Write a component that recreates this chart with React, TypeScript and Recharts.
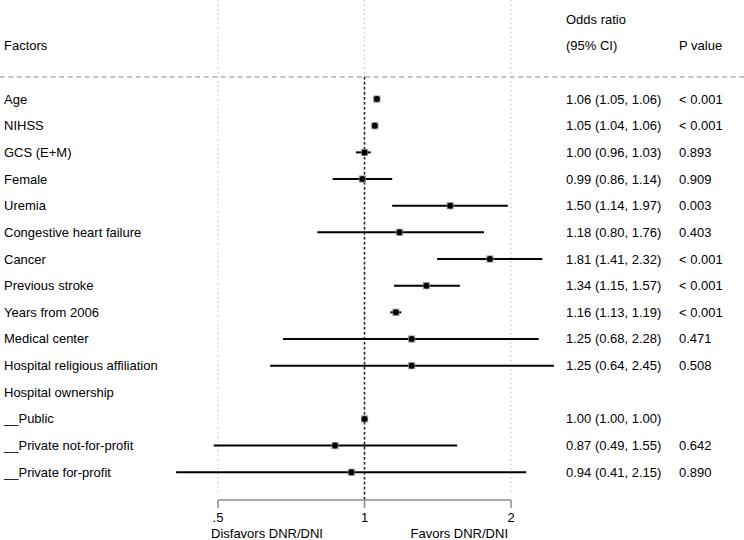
import React from "react";
import {
  ScatterChart,
  Scatter,
  XAxis,
  YAxis,
  ErrorBar,
  ReferenceLine,
} from "recharts";

const factors = [
  "Age",
  "NIHSS",
  "GCS (E+M)",
  "Female",
  "Uremia",
  "Congestive heart failure",
  "Cancer",
  "Previous stroke",
  "Years from 2006",
  "Medical center",
  "Hospital religious affiliation",
  "Hospital ownership",
  "__Public",
  "__Private not-for-profit",
  "__Private for-profit",
];
const oddsRatio: (number | null)[] = [1.06, 1.05, 1.0, 0.99, 1.5, 1.18, 1.81, 1.34, 1.16, 1.25, 1.25, null, 1.0, 0.87, 0.94];
const ciLow: (number | null)[] = [1.05, 1.04, 0.96, 0.86, 1.14, 0.8, 1.41, 1.15, 1.13, 0.68, 0.64, null, 1.0, 0.49, 0.41];
const ciHigh: (number | null)[] = [1.06, 1.06, 1.03, 1.14, 1.97, 1.76, 2.32, 1.57, 1.19, 2.28, 2.45, null, 1.0, 1.55, 2.15];
const pValues = [
  "< 0.001",
  "< 0.001",
  "0.893",
  "0.909",
  "0.003",
  "0.403",
  "< 0.001",
  "< 0.001",
  "< 0.001",
  "0.471",
  "0.508",
  "",
  "",
  "0.642",
  "0.890",
];
const xTicks = [0.5, 1, 2];
const xTickLabels = [".5", "1", "2"];
const leftHeader = "Factors";
const orHeader1 = "Odds ratio";
const orHeader2 = "(95% CI)";
const pHeader = "P value";
const lowLabel = "Disfavors DNR/DNI";
const highLabel = "Favors DNR/DNI";

const FONT = "'Liberation Sans', Arial, Helvetica, sans-serif";
const Y_DOMAIN: [number, number] = [-3.716, 15.04];
const HEADER_ROW_1 = -3;
const HEADER_ROW_2 = -2;
const RULE_ROW = -0.83;

const data = factors
  .map((f, i) => ({
    row: i,
    factor: f,
    or: oddsRatio[i],
    err: oddsRatio[i] != null ? [(oddsRatio[i] as number) - (ciLow[i] as number), (ciHigh[i] as number) - (oddsRatio[i] as number)] : null,
  }))
  .filter((d) => d.or != null);

const orText = (i: number) =>
  oddsRatio[i] == null
    ? ""
    : `${(oddsRatio[i] as number).toFixed(2)} (${(ciLow[i] as number).toFixed(2)}, ${(ciHigh[i] as number).toFixed(2)})`;

const LeftTick = (props: any) => {
  const { y, payload } = props;
  const v = payload.value;
  const label = v === HEADER_ROW_2 ? leftHeader : factors[v] ?? "";
  return (
    <text x={4} y={y + 4.5} fontSize={13} fontFamily={FONT} fill="#000">
      {label}
    </text>
  );
};

const RightTick = (props: any) => {
  const { y, payload } = props;
  const v = payload.value;
  let a = "";
  let b = "";
  if (v === HEADER_ROW_1) {
    a = orHeader1;
  } else if (v === HEADER_ROW_2) {
    a = orHeader2;
    b = pHeader;
  } else {
    a = orText(v);
    b = pValues[v] ?? "";
  }
  return (
    <g>
      <text x={566} y={y + 4.5} fontSize={13} fontFamily={FONT} fill="#000">
        {a}
      </text>
      <text x={679} y={y + 4.5} fontSize={13} fontFamily={FONT} fill="#000">
        {b}
      </text>
    </g>
  );
};

const XTick = (props: any) => {
  const { x, y, payload } = props;
  const idx = xTicks.indexOf(payload.value);
  return (
    <g>
      <text x={x} y={y + 9.5} fontSize={13} fontFamily={FONT} fill="#000" textAnchor="middle">
        {xTickLabels[idx]}
      </text>
      {idx === 0 && (
        <text x={x - 7} y={y + 26} fontSize={13} fontFamily={FONT} fill="#000" textAnchor="start">
          {lowLabel}
        </text>
      )}
      {idx === xTicks.length - 1 && (
        <text x={x - 3} y={y + 26} fontSize={13} fontFamily={FONT} fill="#000" textAnchor="end">
          {highLabel}
        </text>
      )}
    </g>
  );
};

const Marker = (props: any) => {
  const { cx, cy } = props;
  if (cx == null || cy == null) return null;
  return (
    <g>
      <rect x={cx - 3.6} y={cy - 3.6} width={7.2} height={7.2} fill="#9a9a9a" />
      <circle cx={cx} cy={cy} r={3} fill="#000" />
    </g>
  );
};

const leftTicks = [HEADER_ROW_2, ...factors.map((_, i) => i)];
const rightTicks = [HEADER_ROW_1, HEADER_ROW_2, ...factors.map((_, i) => i)];

export default function App() {
  return (
    <div style={{ position: "absolute", left: 0, top: 0, background: "#fff" }}>
      <ScatterChart width={744} height={540} margin={{ top: 0, right: 0, bottom: 0, left: 0 }}>
        <XAxis
          dataKey="or"
          type="number"
          scale="log"
          domain={[0.25, 4]}
          allowDataOverflow
          ticks={xTicks}
          interval={0}
          axisLine={false}
          tickLine={{ stroke: "#8c8c8c", strokeWidth: 1.5 }}
          tickSize={8}
          tickMargin={4}
          height={40}
          tick={<XTick />}
        />
        <YAxis
          yAxisId="left"
          dataKey="row"
          type="number"
          domain={Y_DOMAIN}
          reversed
          ticks={leftTicks}
          interval={0}
          width={71.5}
          axisLine={false}
          tickLine={false}
          tick={<LeftTick />}
          allowDataOverflow
        />
        <YAxis
          yAxisId="right"
          orientation="right"
          type="number"
          domain={Y_DOMAIN}
          reversed
          ticks={rightTicks}
          interval={0}
          width={86.5}
          axisLine={false}
          tickLine={false}
          tick={<RightTick />}
          allowDataOverflow
        />
        {xTicks.map((t) => (
          <ReferenceLine
            key={"g" + t}
            yAxisId="left"
            segment={[
              { x: t, y: Y_DOMAIN[0] },
              { x: t, y: 14.77 },
            ]}
            stroke="#bdbdbd"
            strokeWidth={1}
            strokeDasharray="1.5 3"
            ifOverflow="visible"
          />
        ))}
        <ReferenceLine
          yAxisId="left"
          segment={[
            { x: 0.178, y: RULE_ROW },
            { x: 6.1, y: RULE_ROW },
          ]}
          stroke="#b0b0b0"
          strokeWidth={1.5}
          strokeDasharray="5 3.5"
          ifOverflow="visible"
        />
        <ReferenceLine
          yAxisId="left"
          segment={[
            { x: 1, y: RULE_ROW },
            { x: 1, y: Y_DOMAIN[1] },
          ]}
          stroke="#222"
          strokeWidth={1.6}
          strokeDasharray="2.5 2.5"
          ifOverflow="visible"
        />
        <ReferenceLine
          yAxisId="left"
          segment={[
            { x: xTicks[0], y: Y_DOMAIN[1] },
            { x: xTicks[xTicks.length - 1], y: Y_DOMAIN[1] },
          ]}
          stroke="#8c8c8c"
          strokeWidth={1.5}
          ifOverflow="visible"
        />
        <Scatter yAxisId="left" data={data} dataKey="or" shape={<Marker />} isAnimationActive={false}>
          <ErrorBar dataKey="err" direction="x" width={0} stroke="#000" strokeWidth={2} />
        </Scatter>
      </ScatterChart>
    </div>
  );
}
